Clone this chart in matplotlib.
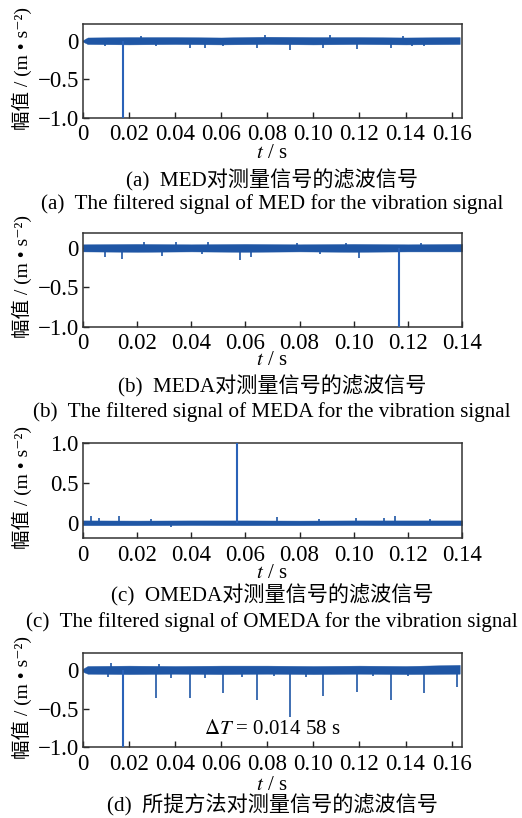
import numpy as np
import matplotlib
matplotlib.use("Agg")
import matplotlib.pyplot as plt

plt.rcParams['font.family'] = ['Liberation Serif', 'Noto Sans CJK SC', 'DejaVu Sans']
plt.rcParams['mathtext.fontset'] = 'stix'
plt.rcParams['axes.unicode_minus'] = True

BLUE = '#1f56a5'
SPIKE = '#2a62b8'

# (a) MED
a_band_t = [0.0, 0.002, 0.02, 0.04, 0.06, 0.08, 0.10, 0.12, 0.14, 0.1635]
a_band_lo = [-0.01, -0.04, -0.045, -0.04, -0.045, -0.04, -0.045, -0.04, -0.045, -0.04]
a_band_hi = [0.01, 0.045, 0.05, 0.05, 0.045, 0.055, 0.05, 0.05, 0.045, 0.05]
a_spk_t = [0.0175, 0.0095, 0.0317, 0.0464, 0.053, 0.0609, 0.0754, 0.0898, 0.1043,
           0.1191, 0.1335, 0.143, 0.148, 0.079, 0.107, 0.139, 0.025]
a_spk_v = [-1.0, -0.07, -0.07, -0.09, -0.09, -0.07, -0.09, -0.12, -0.09,
           -0.10, -0.09, -0.07, -0.07, 0.08, 0.08, 0.07, 0.07]

# (b) MEDA
b_band_t = [0.0, 0.02, 0.04, 0.06, 0.08, 0.10, 0.12, 0.14]
b_band_lo = [-0.045, -0.05, -0.045, -0.05, -0.045, -0.05, -0.045, -0.045]
b_band_hi = [0.045, 0.05, 0.045, 0.05, 0.045, 0.05, 0.045, 0.05]
b_spk_t = [0.1166, 0.0082, 0.0144, 0.0292, 0.044, 0.0581, 0.062, 0.102, 0.0875,
           0.0225, 0.0345, 0.046, 0.079, 0.097, 0.125]
b_spk_v = [-1.0, -0.12, -0.14, -0.10, -0.08, -0.15, -0.12, -0.13, -0.08,
           0.07, 0.07, 0.07, 0.06, 0.06, 0.06]

# (c) OMEDA
c_band_t = [0.0, 0.02, 0.04, 0.06, 0.08, 0.10, 0.12, 0.14]
c_band_lo = [-0.03, -0.03, -0.028, -0.03, -0.03, -0.028, -0.03, -0.03]
c_band_hi = [0.03, 0.028, 0.03, 0.03, 0.028, 0.03, 0.03, 0.03]
c_spk_t = [0.0569, 0.0030, 0.0058, 0.0134, 0.0717, 0.1010, 0.1113, 0.1154,
           0.0325, 0.025, 0.087, 0.128]
c_spk_v = [1.0, 0.08, 0.06, 0.09, 0.07, 0.06, 0.06, 0.09,
           -0.05, 0.05, 0.05, 0.05]

# (d) proposed method
d_band_t = [0.0, 0.002, 0.02, 0.04, 0.06, 0.08, 0.10, 0.12, 0.14, 0.1635]
d_band_lo = [-0.02, -0.045, -0.05, -0.045, -0.05, -0.045, -0.05, -0.045, -0.05, -0.045]
d_band_hi = [0.02, 0.055, 0.06, 0.055, 0.06, 0.06, 0.055, 0.06, 0.055, 0.07]
d_spk_t = [0.0175, 0.0317, 0.0464, 0.0609, 0.0754, 0.0898, 0.1043, 0.1191,
           0.1335, 0.1480, 0.1624, 0.011, 0.038, 0.053, 0.069, 0.083, 0.097,
           0.126, 0.141, 0.012, 0.033]
d_spk_v = [-1.0, -0.36, -0.36, -0.30, -0.39, -0.61, -0.33, -0.28,
           -0.38, -0.29, -0.22, -0.09, -0.10, -0.10, -0.09, -0.08, -0.09,
           -0.08, -0.08, 0.09, 0.08]

panels = [
    dict(band=(a_band_t, a_band_lo, a_band_hi), spk=(a_spk_t, a_spk_v),
         xlim=(0, 0.1645), ylim=(-1.0, 0.22), yt=[-1.0, -0.5, 0],
         top=24, bot=118, dy=(36, 62, 86),
         cn='(a)  MED对测量信号的滤波信号',
         en='(a)  The filtered signal of MED for the vibration signal'),
    dict(band=(b_band_t, b_band_lo, b_band_hi), spk=(b_spk_t, b_spk_v),
         xlim=(0, 0.14), ylim=(-1.0, 0.195), yt=[-1.0, -0.5, 0],
         top=232.5, bot=326.7, dy=(34, 60, 85),
         cn='(b)  MEDA对测量信号的滤波信号',
         en='(b)  The filtered signal of MEDA for the vibration signal'),
    dict(band=(c_band_t, c_band_lo, c_band_hi), spk=(c_spk_t, c_spk_v),
         xlim=(0, 0.14), ylim=(-0.195, 1.0), yt=[0, 0.5, 1.0],
         top=443.3, bot=538.3, dy=(35, 57, 84),
         cn='(c)  OMEDA对测量信号的滤波信号',
         en='(c)  The filtered signal of OMEDA for the vibration signal'),
    dict(band=(d_band_t, d_band_lo, d_band_hi), spk=(d_spk_t, d_spk_v),
         xlim=(0, 0.1645), ylim=(-1.0, 0.22), yt=[-1.0, -0.5, 0],
         top=653.3, bot=747.3, dy=(38, 58, None),
         cn='(d)  所提方法对测量信号的滤波信号', en=None),
]

W, H = 522, 818
fig = plt.figure(figsize=(W / 100, H / 100), dpi=100)
fs = 16.5

for p in panels:
    left, right = 83, 462
    ax = fig.add_axes([left / W, 1 - p['bot'] / H, (right - left) / W, (p['bot'] - p['top']) / H])
    bt, blo, bhi = p['band']
    ax.fill_between(bt, blo, bhi, color=BLUE, lw=0.3, zorder=2)
    st, sv = p['spk']
    ax.vlines(st[:1], 0, sv[:1], color=SPIKE, lw=1.5, zorder=3)
    ax.vlines(st[1:], 0, sv[1:], color=BLUE, lw=1.2, zorder=3)
    ax.set_xlim(*p['xlim'])
    ax.set_ylim(*p['ylim'])
    xt = np.arange(0, p['xlim'][1] + 1e-9, 0.02)
    ax.set_xticks(xt)
    ax.set_xticklabels(['0'] + ['%.2f' % v for v in xt[1:]])
    ax.set_yticks(p['yt'])
    ax.set_yticklabels(['0' if v == 0 else ('%.1f' % v).replace('-', '\u2212') for v in p['yt']])
    ax.tick_params(direction='in', length=4, width=1, labelsize=fs, pad=3,
                   top=False, right=False, color='#222222')
    ax.tick_params(axis='x', pad=4.5)
    for s in ax.spines.values():
        s.set_linewidth(1.1)
        s.set_color('#333333')
    ycen = (p['top'] + p['bot']) / 2
    d1, d2, d3 = p['dy']
    fig.text(22 / W, 1 - (ycen - 3) / H, '幅值 / (m • s⁻²)', rotation=90,
             ha='center', va='center', fontsize=14)
    fig.text(272 / W, 1 - (p['bot'] + d1) / H, r'$t$ / s', ha='center', va='center', fontsize=15)
    fig.text(272 / W, 1 - (p['bot'] + d2) / H, p['cn'], ha='center', va='center', fontsize=15.2)
    if p['en']:
        fig.text(272 / W, 1 - (p['bot'] + d3) / H, p['en'], ha='center', va='center', fontsize=15.2)
    if p['cn'].startswith('(d)'):
        ax.text(0.082, -0.77, r'$\Delta T$ = 0.014 58 s', ha='center', va='center', fontsize=15)

fig.savefig('out.png', dpi=100)
